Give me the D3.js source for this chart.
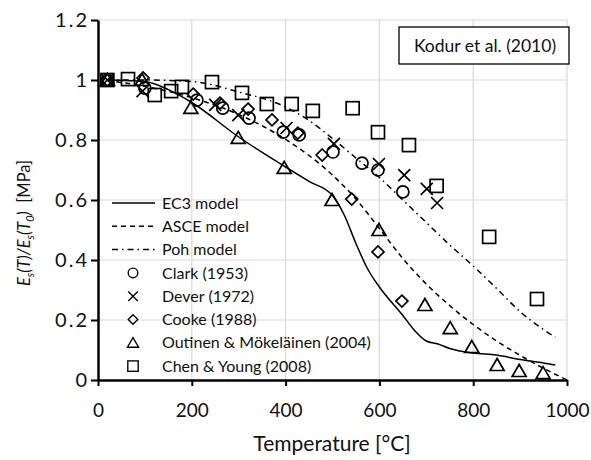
<!DOCTYPE html>
<html>
<head>
<meta charset="utf-8">
<script src="https://cdnjs.cloudflare.com/ajax/libs/d3/7.8.5/d3.min.js"></script>
<style>
  body { margin: 0; background: #fff; }
  svg text { font-family: Lato, "Open Sans", sans-serif; fill: #111; }
</style>
</head>
<body>
<div id="chart"></div>
<script>
// model curves
var ec3T = [20, 100, 150, 200, 300, 400, 450, 500, 525, 550, 575, 600, 650, 675, 700, 725, 750, 800, 850, 900, 950, 975];
var ec3V = [1.0, 0.995, 0.968, 0.925, 0.81, 0.71, 0.662, 0.615, 0.55, 0.455, 0.37, 0.31, 0.215, 0.165, 0.13, 0.12, 0.105, 0.09, 0.083, 0.068, 0.057, 0.05];
var asceT = [20, 100, 200, 300, 400, 500, 550, 600, 650, 700, 750, 800, 850, 900, 950, 1000];
var asceV = [0.998, 0.979, 0.941, 0.885, 0.802, 0.683, 0.603, 0.505, 0.405, 0.32, 0.248, 0.185, 0.13, 0.082, 0.039, 0.0];
var pohT = [20, 100, 200, 300, 400, 450, 500, 550, 600, 650, 700, 750, 800, 850, 900, 950, 975];
var pohV = [1.0, 1.0, 0.995, 0.96, 0.91, 0.865, 0.805, 0.74, 0.675, 0.6, 0.525, 0.45, 0.38, 0.305, 0.228, 0.168, 0.143];

// test data
var clarkT = [20, 100, 211, 266, 322, 395, 429, 501, 563, 597, 650];
var clarkV = [1.0, 0.973, 0.933, 0.906, 0.873, 0.826, 0.817, 0.76, 0.723, 0.70, 0.627];
var deverT = [20, 95, 250, 299, 402, 503, 599, 653, 701, 723];
var deverV = [1.0, 0.963, 0.917, 0.883, 0.84, 0.787, 0.72, 0.683, 0.637, 0.59];
var cookeT = [20, 96, 203, 260, 320, 371, 426, 478, 541, 597, 648];
var cookeV = [1.0, 1.007, 0.953, 0.923, 0.903, 0.867, 0.823, 0.75, 0.603, 0.427, 0.263];
var outT = [20, 94, 198, 299, 397, 499, 599, 697, 751, 797, 851, 898, 949];
var outV = [1.0, 1.0, 0.907, 0.807, 0.707, 0.60, 0.50, 0.25, 0.173, 0.11, 0.05, 0.03, 0.023];
var chenT = [20, 64, 121, 156, 179, 243, 307, 360, 413, 458, 543, 597, 663, 722, 834, 936];
var chenV = [1.0, 1.003, 0.95, 0.963, 0.977, 0.993, 0.957, 0.92, 0.92, 0.897, 0.906, 0.826, 0.783, 0.647, 0.477, 0.27];

var xTicks = [0, 200, 400, 600, 800, 1000];
var yTicks = [0, 0.2, 0.4, 0.6, 0.8, 1, 1.2];

var width = 591, height = 460;
var margin = {left: 98, right: 24, top: 20, bottom: 80};

var svg = d3.select("#chart").append("svg").attr("width", width).attr("height", height);

var x = d3.scaleLinear().domain([0, 1000]).range([margin.left, width - margin.right]);
var y = d3.scaleLinear().domain([0, 1.2]).range([height - margin.bottom, margin.top]);

// grid
svg.append("g").selectAll("line").data(xTicks.slice(1)).enter().append("line")
  .attr("x1", d => x(d)).attr("x2", d => x(d)).attr("y1", y(0)).attr("y2", y(1.2))
  .attr("stroke", "#d9d9d9").attr("stroke-width", 1.2);
svg.append("g").selectAll("line").data(yTicks.slice(1)).enter().append("line")
  .attr("x1", x(0)).attr("x2", x(1000)).attr("y1", d => y(d)).attr("y2", d => y(d))
  .attr("stroke", "#d9d9d9").attr("stroke-width", 1.2);

// axes
var xAxis = svg.append("g").attr("transform", "translate(0," + y(0) + ")")
  .call(d3.axisBottom(x).tickValues(xTicks).tickSize(6).tickSizeOuter(0).tickFormat(d3.format("d")));
var yAxis = svg.append("g").attr("transform", "translate(" + x(0) + ",0)")
  .call(d3.axisLeft(y).tickValues(yTicks).tickSize(7).tickSizeOuter(0).tickFormat(d => d3.format("")(d)));
[xAxis, yAxis].forEach(function(a) {
  a.select(".domain").attr("stroke", "#000").attr("stroke-width", 2.5);
  a.selectAll(".tick line").attr("stroke", "#000").attr("stroke-width", 2);
  a.selectAll(".tick text").style("font-size", "19px").attr("fill", "#111");
});
xAxis.selectAll(".tick text").attr("dy", "1.45em");
yAxis.selectAll(".tick text").style("font-size", "20px").style("letter-spacing", "2px").attr("dx", "0.05em");

// model lines
function lineOf(ts, vs) { return ts.map((t, i) => [t, vs[i]]); }
var line = d3.line().x(d => x(d[0])).y(d => y(d[1])).curve(d3.curveMonotoneX);
var models = [
  {name: "EC3 model", data: lineOf(ec3T, ec3V), dash: null},
  {name: "ASCE model", data: lineOf(asceT, asceV), dash: "5,4"},
  {name: "Poh model", data: lineOf(pohT, pohV), dash: "6,4,1.5,4"}
];
models.forEach(function(m) {
  svg.append("path").attr("d", line(m.data)).attr("fill", "none")
    .attr("stroke", "#000").attr("stroke-width", 1.5).attr("stroke-dasharray", m.dash);
});

// markers
function marker(g, type) {
  if (type === "circle") g.append("circle").attr("r", 6);
  else if (type === "x") g.append("path").attr("d", "M-6,-6L6,6M-6,6L6,-6");
  else if (type === "diamond") g.append("path").attr("d", "M0,-6L6,0L0,6L-6,0Z");
  else if (type === "triangle") g.append("path").attr("d", "M0,-6.5L7,5.5L-7,5.5Z");
  else if (type === "square") g.append("rect").attr("x", -6.5).attr("y", -6.5).attr("width", 13).attr("height", 13);
  g.selectAll("*").attr("fill", "none").attr("stroke", "#000").attr("stroke-width", 1.7);
}
var tests = [
  {name: "Clark (1953)", t: clarkT, v: clarkV, type: "circle"},
  {name: "Dever (1972)", t: deverT, v: deverV, type: "x"},
  {name: "Cooke (1988)", t: cookeT, v: cookeV, type: "diamond"},
  {name: "Outinen & Mökeläinen (2004)", t: outT, v: outV, type: "triangle"},
  {name: "Chen & Young (2008)", t: chenT, v: chenV, type: "square"}
];
tests.forEach(function(s) {
  s.t.forEach(function(t, i) {
    var g = svg.append("g").attr("transform", "translate(" + x(t) + "," + y(s.v[i]) + ")");
    marker(g, s.type);
  });
});

// legend
var lg = svg.append("g").attr("transform", "translate(112,203)");
var step = 23.3;
models.forEach(function(m, i) {
  lg.append("line").attr("x1", 0).attr("x2", 43).attr("y1", i * step).attr("y2", i * step)
    .attr("stroke", "#000").attr("stroke-width", 1.5).attr("stroke-dasharray", m.dash);
  lg.append("text").attr("x", 50).attr("y", i * step).attr("dy", "0.35em").style("font-size", "16px").text(m.name);
});
tests.forEach(function(s, i) {
  var yy = (i + 3) * step;
  var g = lg.append("g").attr("transform", "translate(21," + yy + ") scale(0.8)");
  marker(g, s.type);
  lg.append("text").attr("x", 50).attr("y", yy).attr("dy", "0.35em").style("font-size", "16px").text(s.name);
});

// source box
svg.append("rect").attr("x", 399).attr("y", 27).attr("width", 170).attr("height", 37)
  .attr("fill", "#fff").attr("stroke", "#000").attr("stroke-width", 1.3);
svg.append("text").attr("x", 485).attr("y", 46).attr("dy", "0.35em").attr("text-anchor", "middle")
  .style("font-size", "17.5px").text("Kodur et al. (2010)");

// axis titles
svg.append("text").attr("x", 332).attr("y", 451).attr("text-anchor", "middle")
  .style("font-size", "21px").text("Temperature [°C]");
var yt = svg.append("text").attr("transform", "translate(30,223) rotate(-90)").attr("text-anchor", "middle")
  .style("font-size", "16.5px");
yt.append("tspan").style("font-style", "italic").text("E");
yt.append("tspan").style("font-style", "italic").style("font-size", "11px").attr("dy", 4).text("s");
yt.append("tspan").style("font-style", "italic").attr("dy", -4).text("(T)/E");
yt.append("tspan").style("font-style", "italic").style("font-size", "11px").attr("dy", 4).text("s");
yt.append("tspan").style("font-style", "italic").attr("dy", -4).text("(T");
yt.append("tspan").style("font-style", "italic").style("font-size", "11px").attr("dy", 4).text("0");
yt.append("tspan").style("font-style", "italic").attr("dy", -4).text(")");
yt.append("tspan").text("\u00a0\u00a0[MPa]");
</script>
</body>
</html>
